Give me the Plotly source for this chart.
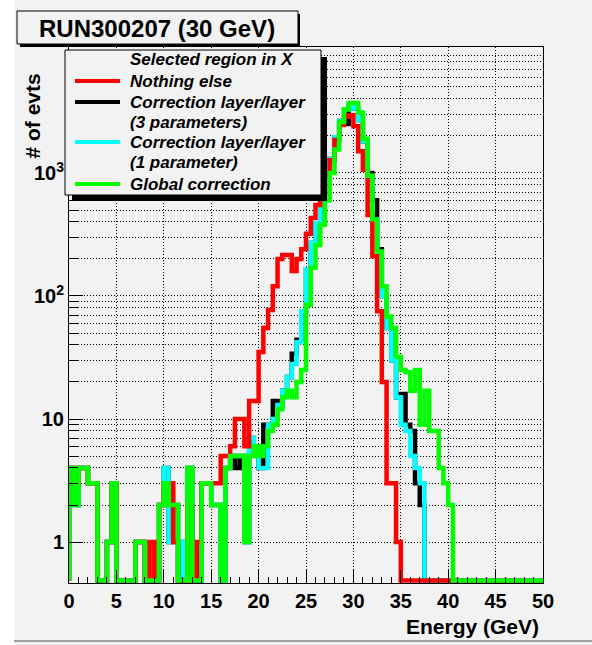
import numpy as np
import plotly.graph_objects as go

# ---------------- data (counts per 0.5 GeV bin, 0-50 GeV) ----------------
BIN_W = 0.5
X_MIN = 0.0

red_nothing_else = [
    4, 3, 4, 4, 3, 3, 0, 0, 1, 3,
    0, 0, 0, 0, 1, 1, 0, 1, 0, 2,
    3, 3, 1, 0, 0, 2, 0, 1, 3, 3,
    3, 3, 5, 5, 6, 10, 10, 6, 14, 14,
    35, 55, 77, 120, 200, 215, 215, 160, 200, 240,
    320, 430, 550, 690, 960, 1270, 1850, 2450, 2870, 2950,
    2400, 1500, 1060, 455, 210, 75, 20, 3, 3, 1,
    0, 0, 0, 0, 0, 0, 0, 0, 0, 0,
    0, 0, 0, 0, 0, 0, 0, 0, 0, 0,
    0, 0, 0, 0, 0, 0, 0, 0, 0, 0,
]

black_3par = [
    4, 2, 4, 4, 3, 3, 0, 0, 1, 3,
    0, 0, 0, 0, 1, 1, 0, 0, 0, 2,
    4, 1, 2, 0, 1, 4, 0, 0, 3, 3,
    2, 2, 0, 4, 5, 4, 5, 1, 7, 6,
    4, 9, 9, 14, 13, 17, 22, 34, 44, 75,
    165, 270, 390, 620, 870, 1300, 1950, 2650, 2500, 3500,
    3350, 2700, 1800, 1000, 600, 240, 100, 55, 30, 15,
    16, 9, 8, 3, 2, 0, 0, 0, 0, 0,
    0, 0, 0, 0, 0, 0, 0, 0, 0, 0,
    0, 0, 0, 0, 0, 0, 0, 0, 0, 0,
]

cyan_1par = [
    4, 2, 4, 4, 3, 3, 0, 0, 1, 3,
    0, 0, 0, 0, 1, 1, 0, 0, 0, 2,
    4, 1, 2, 0, 1, 4, 0, 0, 3, 3,
    2, 2, 0, 4, 5, 5, 5, 1, 7, 6,
    4, 4, 9, 10, 13, 17, 22, 28, 42, 75,
    165, 270, 390, 600, 870, 1300, 1950, 2650, 3300, 3500,
    3350, 2700, 1800, 900, 420, 200, 100, 55, 30, 15,
    9, 8, 5, 4, 3, 0, 0, 0, 0, 0,
    0, 0, 0, 0, 0, 0, 0, 0, 0, 0,
    0, 0, 0, 0, 0, 0, 0, 0, 0, 0,
]

green_global = [
    4, 2, 4, 4, 3, 3, 0, 0, 1, 3,
    0, 0, 0, 0, 1, 1, 0, 0, 0, 2,
    3, 2, 2, 0, 0, 4, 0, 0, 3, 3,
    2, 2, 0, 4, 5, 5, 5, 1, 5, 6,
    5, 6, 8, 9, 12, 15, 17, 15, 20, 25,
    85, 170, 260, 380, 600, 1000, 1550, 2600, 3300, 3700,
    3700, 3100, 1900, 950, 420, 230, 120, 68, 55, 32,
    25, 24, 17, 25, 9, 17, 8, 8, 4, 3,
    2, 0, 0, 0, 0, 0, 0, 0, 0, 0,
    0, 0, 0, 0, 0, 0, 0, 0, 0, 0,
]

x_tick_vals = [0, 5, 10, 15, 20, 25, 30, 35, 40, 45, 50]
y_tick_vals = [1, 10, 100, 1000]
y_tick_text = ["1", "10", "10<sup>2</sup>", "10<sup>3</sup>"]

title_text = "RUN300207 (30 GeV)"
legend_header = "Selected region in X"
legend_rows = [
    ("Nothing else", "#ff0000"),
    ("Correction layer/layer", "#000000"),
    ("(3 parameters)", None),
    ("Correction layer/layer", "#00ffff"),
    ("(1 parameter)", None),
    ("Global correction", "#00ff00"),
]

# ---------------- layout constants ----------------
W, H = 592, 645
L, R, T, B = 69, 49, 47, 62
PW, PH = W - L - R, H - T - B
BG = "#f2f2f2"
Y_MIN_LOG, Y_MAX_LOG = -0.333, 4.024
FONT = "Liberation Sans"
GRID_DASH = "1px,2px"


def px(x):
    return (x - L) / PW


def py(y):
    return (H - B - y) / PH


def step_xy(counts):
    edges = X_MIN + BIN_W * np.arange(len(counts) + 1)
    floor = 10 ** (Y_MIN_LOG + 0.02)
    vals = [c if c > 0 else floor for c in counts]
    xs = [edges[0]] + list(edges[:-1]) + [edges[-1], edges[-1]]
    ys = [floor] + vals + [vals[-1], floor]
    return xs, ys


fig = go.Figure()
for counts, color in [
    (black_3par, "#000000"),
    (cyan_1par, "#00ffff"),
    (red_nothing_else, "#ff0000"),
    (green_global, "#00ff00"),
]:
    xs, ys = step_xy(counts)
    fig.add_trace(go.Scatter(x=xs, y=ys, mode="lines", line=dict(color=color, width=4.5, shape="hv"),
                             hoverinfo="skip"))

minor_y = [m * 10 ** d for d in range(0, 4) for m in range(2, 10)]

fig.update_layout(
    width=W, height=H,
    margin=dict(l=L, r=R, t=T, b=B, pad=0),
    paper_bgcolor=BG, plot_bgcolor=BG,
    showlegend=False,
    xaxis=dict(
        range=[0, 50], tickmode="array", tickvals=x_tick_vals,
        ticks="inside", ticklen=13, tickcolor="black", tickwidth=1,
        showgrid=True, gridcolor="black", griddash=GRID_DASH, gridwidth=1,
        zeroline=False, showline=True, linecolor="black", linewidth=1, mirror=True,
        tickfont=dict(family=FONT, size=20, color="black", weight="bold"),
        minor=dict(dtick=1, ticks="inside", ticklen=6, tickcolor="black", showgrid=False),
    ),
    yaxis=dict(
        type="log", range=[Y_MIN_LOG, Y_MAX_LOG],
        tickmode="array", tickvals=y_tick_vals, ticktext=y_tick_text,
        ticks="inside", ticklen=14, tickcolor="black", tickwidth=1,
        showgrid=True, gridcolor="black", griddash=GRID_DASH, gridwidth=1,
        zeroline=False, showline=True, linecolor="black", linewidth=1, mirror=True,
        tickfont=dict(family=FONT, size=20, color="black", weight="bold"),
        minor=dict(tickmode="array", tickvals=minor_y, ticks="inside", ticklen=9,
                   tickcolor="black", showgrid=True, gridcolor="black", griddash=GRID_DASH, gridwidth=1),
    ),
)

shapes = []
# canvas decorations
shapes.append(dict(type="rect", xref="paper", yref="paper", x0=px(0), x1=px(14), y0=py(H), y1=py(0),
                   fillcolor="white", line=dict(width=0), layer="below"))
shapes.append(dict(type="line", xref="paper", yref="paper", x0=px(14), x1=px(W), y0=py(641), y1=py(641),
                   line=dict(color="#a0a0a0", width=2), layer="below"))
# title box with shadow
shapes.append(dict(type="rect", xref="paper", yref="paper", x0=px(20), x1=px(300), y0=py(47), y1=py(14),
                   fillcolor="black", line=dict(width=0), layer="above"))
shapes.append(dict(type="rect", xref="paper", yref="paper", x0=px(17), x1=px(298), y0=py(44), y1=py(11),
                   fillcolor=BG, line=dict(color="black", width=1), layer="above"))
# legend box with shadow
shapes.append(dict(type="rect", xref="paper", yref="paper", x0=px(72), x1=px(327), y0=py(201), y1=py(57),
                   fillcolor="black", line=dict(width=0), layer="above"))
shapes.append(dict(type="rect", xref="paper", yref="paper", x0=px(65), x1=px(321), y0=py(195), y1=py(50),
                   fillcolor=BG, line=dict(color="black", width=1), layer="above"))

annotations = []
annotations.append(dict(text=title_text, x=px(157), y=py(28), xref="paper", yref="paper",
                        xanchor="center", yanchor="middle", showarrow=False,
                        font=dict(family=FONT, size=24, color="black", weight="bold")))
leg_font = dict(family=FONT, size=17, color="black", weight="bold", style="italic")
annotations.append(dict(text=legend_header, x=px(128), y=py(60), xref="paper", yref="paper",
                        xanchor="left", yanchor="middle", showarrow=False, font=leg_font))
row_y = [81, 102, 122, 142, 162, 184]
for (txt, col), yy in zip(legend_rows, row_y):
    annotations.append(dict(text=txt, x=px(128), y=py(yy), xref="paper", yref="paper",
                            xanchor="left", yanchor="middle", showarrow=False, font=leg_font))
    if col is not None:
        shapes.append(dict(type="line", xref="paper", yref="paper", x0=px(75), x1=px(120),
                           y0=py(yy), y1=py(yy), line=dict(color=col, width=4), layer="above"))

annotations.append(dict(text="Energy (GeV)", x=px(541), y=py(626), xref="paper", yref="paper",
                        xanchor="right", yanchor="middle", showarrow=False,
                        font=dict(family=FONT, size=21, color="black", weight="bold")))
annotations.append(dict(text="# of evts", x=px(32), y=py(72), xref="paper", yref="paper",
                        xanchor="center", yanchor="top", textangle=-90, showarrow=False,
                        font=dict(family=FONT, size=21, color="black", weight="bold")))

fig.update_layout(shapes=shapes, annotations=annotations)
fig.write_html("out.html")
